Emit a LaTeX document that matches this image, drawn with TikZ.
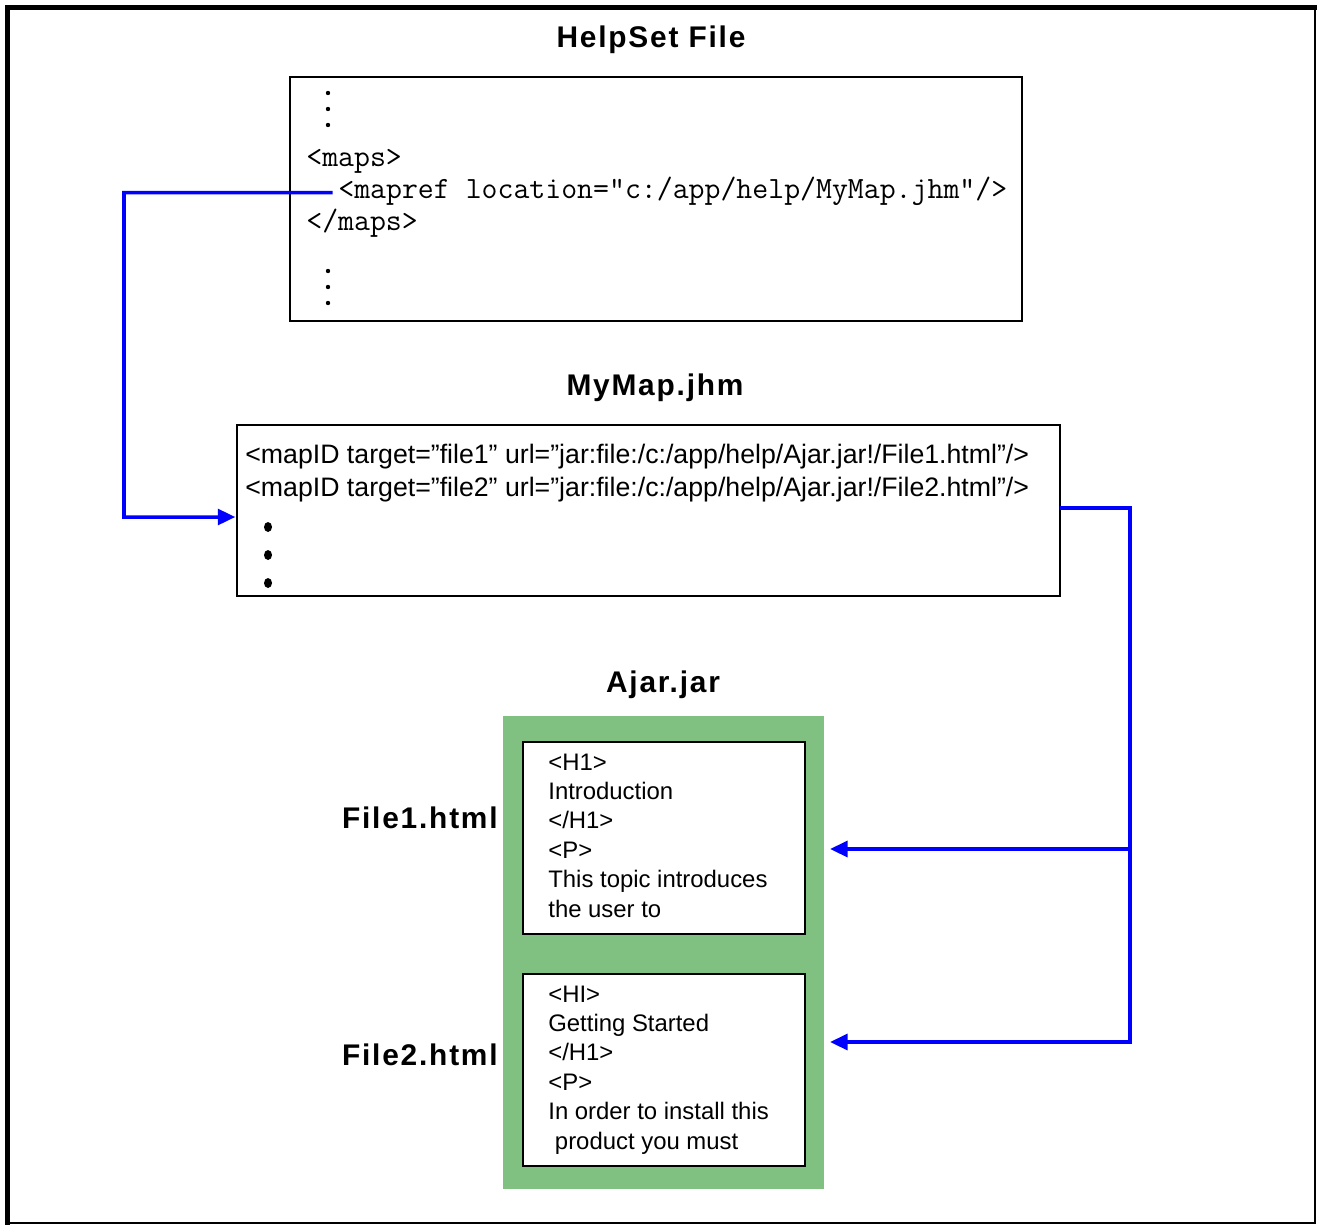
\documentclass[tikz,border=0pt]{standalone}
\usepackage{fontspec}
\setmainfont{Liberation Sans}
\newfontfamily\titlefont{Liberation Sans}[LetterSpace=6]
\usetikzlibrary{arrows.meta}
\definecolor{jargreen}{RGB}{128,192,128}
\tikzstyle{codebox}=[rectangle, draw=black, line width=0.8pt, inner sep=0pt, outer sep=0pt]
\tikzstyle{codeline}=[anchor=base west, inner sep=0pt, font=\ttfamily\fontsize{17.6}{18}\selectfont]
\tikzstyle{mapline}=[anchor=base west, inner sep=0pt, font=\fontsize{15.2}{18}\selectfont]
\tikzstyle{htmlline}=[anchor=base west, inner sep=0pt, font=\fontsize{13.6}{16}\selectfont]
\tikzstyle{boxtitle}=[anchor=base, inner sep=0pt, font=\titlefont\bfseries\fontsize{17}{20}\selectfont]
\tikzstyle{link}=[-{Triangle[length=10pt,width=9pt]}, draw=blue, line width=2pt]

\begin{document}
\begin{tikzpicture}[x=0.02cm, y=-0.02cm]
	\useasboundingbox (0,0) rectangle (1318,1224);
	\draw[line width=2.8pt, line cap=rect] (7.5,1223) -- (7.5,7.5) -- (1315,7.5);
	\draw[line width=1.4pt] (1315,7.5) -- (1315,1223) -- (7.5,1223);

	% HelpSet file
	\node (helpset) [boxtitle] at (651,47) {HelpSet File};
	\node (hsbox) [codebox, minimum width=14.64cm, minimum height=4.88cm] at (656,199) {};
	\foreach \y in {93,109,125,271,287,303}
		\fill (328,\y) circle [radius=2.2];
	\node (maps) [codeline] at (306,166) {<maps>};
	\node (mapref) [codeline] at (338,198) {<mapref location=”c:/app/help/MyMap.jhm”/>};
	\node (mapsend) [codeline] at (306,230) {</maps>};

	% map file
	\node (mymaptitle) [boxtitle] at (655,395) {MyMap.jhm};
	\node (mymap) [codebox, minimum width=16.46cm, minimum height=3.42cm] at (648.5,510.5) {};
	\node (mapid1) [mapline] at (245,463) {<mapID target=”file1” url=”jar:file:/c:/app/help/Ajar.jar!/File1.html”/>};
	\node (mapid2) [mapline] at (245,496) {<mapID target=”file2” url=”jar:file:/c:/app/help/Ajar.jar!/File2.html”/>};
	\foreach \y in {527,555,583}
		\fill (268,\y) ellipse [x radius=4, y radius=5];

	% jar file
	\node (ajartitle) [boxtitle] at (663,692) {Ajar.jar};
	\node (ajar) [rectangle, fill=jargreen, minimum width=6.42cm, minimum height=9.46cm, inner sep=0pt] at (663.5,952.5) {};
	\node (file1) [codebox, fill=white, minimum width=5.64cm, minimum height=3.84cm] at (664,838) {};
	\node (file2) [codebox, fill=white, minimum width=5.64cm, minimum height=3.84cm] at (664,1070) {};
	\node (file1title) [boxtitle, anchor=base east] at (498,828) {File1.html};
	\node (file2title) [boxtitle, anchor=base east] at (498,1065) {File2.html};

	\foreach \t [count=\i] in {<H1>, Introduction, </H1>, <P>, This topic introduces, the user to}
		\node (first\i) [htmlline] at (548,{770+29.4*(\i-1)}) {\t};
	\foreach \t [count=\i] in {<HI>, Getting Started, </H1>, <P>, In order to install this, {\ product you must}}
		\node (second\i) [htmlline] at (548,{1002+29.4*(\i-1)}) {\t};

	\coordinate (bend) at (124,517);
	\coordinate (bus) at (1130,508);
	\coordinate (in1) at (830,849);
	\coordinate (in2) at (830,1042);

\draw[link] ([xshift=-3pt,yshift=3pt]mapref.base west) -| (bend) -- ([xshift=-1pt,yshift=-3.7pt]mymap.west);
\draw[link] (mymap.east |- bus) -- (bus) |- (in1);
\draw[link] (bus) |- (in2);

\end{tikzpicture}
\end{document}
